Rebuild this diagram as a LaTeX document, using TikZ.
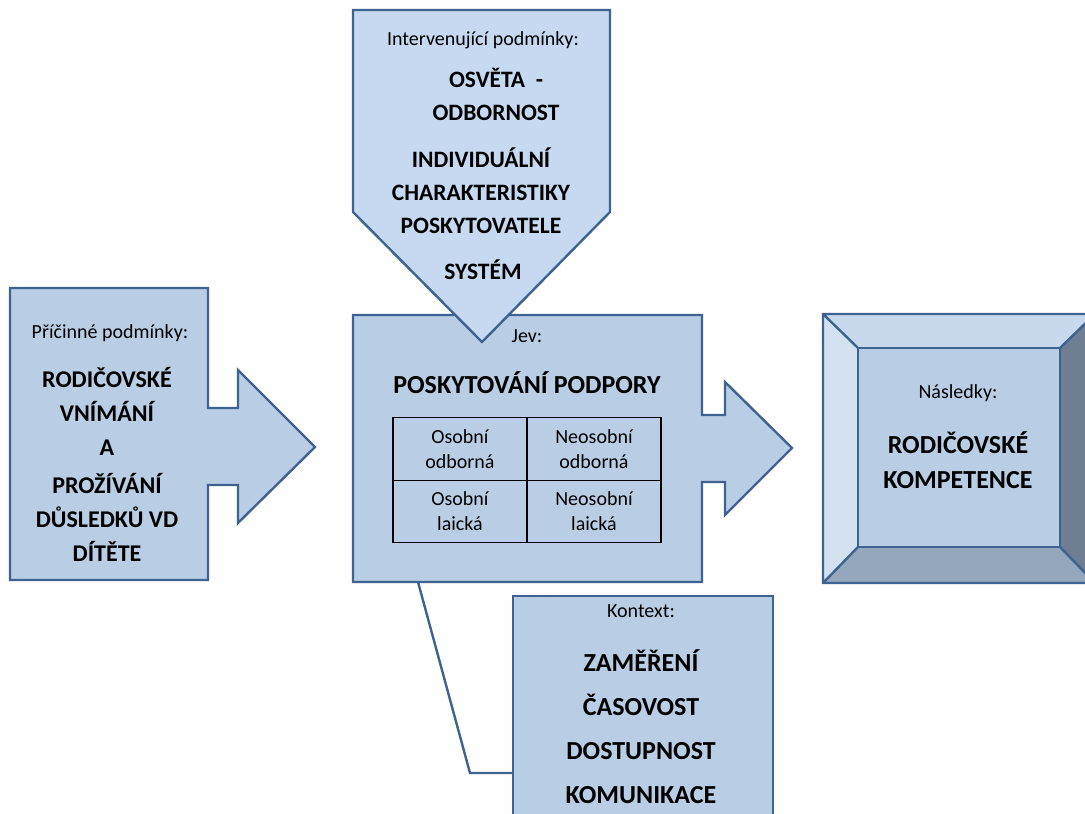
\documentclass[tikz,border=0pt]{standalone}
\usepackage{fontspec}
\setmainfont{Carlito}
\usetikzlibrary{positioning}

\definecolor{boxfill}{HTML}{B9CDE5}
\definecolor{toplight}{HTML}{C6D9F1}
\definecolor{boxline}{HTML}{3E6390}
\definecolor{bevtop}{HTML}{C9D9ED}
\definecolor{bevleft}{HTML}{D4E1F1}
\definecolor{bevbot}{HTML}{95A7BD}
\definecolor{bevright}{HTML}{6F7E92}

\tikzset{
  shapebox/.style={draw=boxline, line width=2.4pt, line join=miter, fill=boxfill},
  lab/.style={font=\fontsize{20}{24}\selectfont},
  big/.style={font=\fontsize{26}{34}\selectfont\bfseries, align=center},
  cell/.style={draw, line width=1.3pt, outer sep=0pt, minimum width=134pt, minimum height=62.5pt,
    align=center, font=\fontsize{20}{25}\selectfont}
}

\begin{document}
\begin{tikzpicture}[x=1pt,y=-1pt,>=latex]
\useasboundingbox (0,0) rectangle (1085,814);
\clip (0,0) rectangle (1085,814);

% causal conditions
\draw[shapebox] (10,288) -- (208,288) -- (208,408) -- (238,408) -- (238,370) -- (315,447)
  -- (238,523) -- (238,485) -- (208,485) -- (208,580) -- (10,580) -- cycle;
\node[lab] (pricinne) at (110,333) {Příčinné podmínky:};
\node[big, font=\fontsize{24}{34}\selectfont\bfseries] (pricinnetxt) at (107,464)
  {RODIČOVSKÉ\\VNÍMÁNÍ\\A\\[4pt]PROŽÍVÁNÍ\\DŮSLEDKŮ VD\\DÍTĚTE};

% phenomenon
\draw[shapebox] (353,315) -- (702,315) -- (702,415) -- (725,415) -- (725,382) -- (792,448)
  -- (725,515) -- (725,482) -- (702,482) -- (702,582) -- (353,582) -- cycle;
\coordinate (jevfoot) at (418,582);
\node[lab] (jev) at (527,336) {Jev:};
\node[big] (jevtxt) at (527,383) {POSKYTOVÁNÍ PODPORY};
\node[cell] (oo) at (460,449) {Osobní\\odborná};
\node[cell, right=0pt of oo] (no) {Neosobní\\odborná};
\node[cell, below=0pt of oo] (ol) {Osobní\\laická};
\node[cell, right=0pt of ol] (nl) {Neosobní\\laická};

% intervening conditions
\draw[shapebox, fill=toplight] (353,10) -- (610,10) -- (610,212) -- (482,342) -- (353,212) -- cycle;
\node[lab] (interv) at (483,40) {Intervenující podmínky:};
\node[big, font=\fontsize{23.5}{33}\selectfont\bfseries] (osveta) at (496,94) {OSVĚTA\ \ -\\ODBORNOST};
\node[big, font=\fontsize{23.5}{33}\selectfont\bfseries] (individ) at (481,191)
  {INDIVIDUÁLNÍ\\CHARAKTERISTIKY\\POSKYTOVATELE};
\node[big, font=\fontsize{23.5}{33}\selectfont\bfseries] (system) at (483,270) {SYSTÉM};

% consequences
\fill[bevtop] (823,314) -- (1095,314) -- (1060,348) -- (858,348) -- cycle;
\fill[bevleft] (823,314) -- (858,348) -- (858,547) -- (823,583) -- cycle;
\fill[bevbot] (823,583) -- (858,547) -- (1060,547) -- (1095,583) -- cycle;
\fill[bevright] (1095,314) -- (1060,348) -- (1060,547) -- (1095,583) -- cycle;
\draw[boxline, line width=2.4pt] (823,314) rectangle (1095,583)
  (823,314) -- (858,348) (1095,314) -- (1060,348) (823,583) -- (858,547) (1095,583) -- (1060,547);
\draw[shapebox] (858,348) rectangle (1060,547);
\node[lab] (nasl) at (958,393) {Následky:};
\node[big, font=\fontsize{26}{35}\selectfont\bfseries] (nasltxt) at (958,460) {RODIČOVSKÉ\\KOMPETENCE};

% context
\node[shapebox, minimum width=260pt, minimum height=240pt, anchor=north west] (kontext) at (512,595) {};
\coordinate (elbow) at (470,773);
\draw[boxline, line width=2.4pt] (jevfoot) -- (elbow) -- (elbow -| kontext.west);
\node[lab] (kontextlab) at (641,611) {Kontext:};
\node[big, font=\fontsize{26}{44}\selectfont\bfseries] (kontexttxt) at (641,727)
  {ZAMĚŘENÍ\\ČASOVOST\\DOSTUPNOST\\KOMUNIKACE};
\end{tikzpicture}
\end{document}
